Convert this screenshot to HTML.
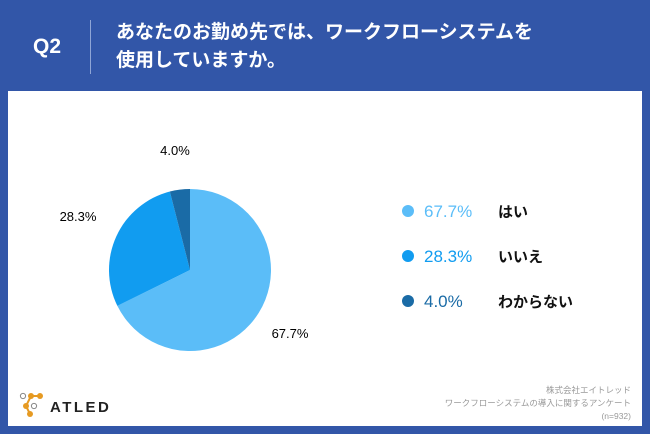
<!DOCTYPE html>
<html><head><meta charset="utf-8"><style>
body{margin:0;width:650px;height:434px;background:#3256a8;font-family:"Liberation Sans","Noto Sans CJK JP",sans-serif;position:relative;overflow:hidden}
.abs{position:absolute}
</style></head><body>
<div class="abs" style="left:33px;top:35px;color:#fff;font-size:21px;font-weight:bold">Q2</div>
<div class="abs" style="left:90px;top:20px;width:1px;height:54px;background:#8fa5d6"></div>
<div class="abs" style="left:116px;top:19px;color:#fff;font-size:19px;font-weight:bold;line-height:28px">あなたのお勤め先では、ワークフローシステムを<br>使用していますか。</div>
<div class="abs" style="left:8px;top:91px;width:634px;height:335px;background:#fff"></div>
<svg class="abs" style="left:0;top:0" width="650" height="434">
<g id="pie"></g>
<text x="175" y="155" font-size="13" text-anchor="middle">4.0%</text>
<text x="78" y="221" font-size="13" text-anchor="middle">28.3%</text>
<text x="290" y="338" font-size="13" text-anchor="middle">67.7%</text>
<g id="legend"></g>
</svg>
<div class="abs" style="left:19px;top:391px;width:30px;height:28px">
<svg width="30" height="28"><g stroke="#e69a22" stroke-width="2" fill="none"><path d="M12 5 L21 5 M12 5 L7 15 L11 23"/></g>
<circle cx="4" cy="5" r="2.6" fill="#fff" stroke="#888"/><circle cx="12" cy="5" r="3" fill="#e69a22"/><circle cx="21" cy="5" r="3" fill="#e69a22"/>
<circle cx="7" cy="15" r="3" fill="#e69a22"/><circle cx="15" cy="15" r="2.6" fill="#fff" stroke="#888"/><circle cx="11" cy="23" r="3" fill="#e69a22"/></svg></div>
<div class="abs" style="left:50px;top:399px;font-size:15px;font-weight:bold;letter-spacing:2.5px;color:#222">ATLED</div>
<div class="abs" style="right:19px;top:384px;text-align:right;font-size:8.5px;line-height:13px;color:#999">株式会社エイトレッド<br>ワークフローシステムの導入に関するアンケート<br>(n=932)</div>
<script>
const categories=["はい","いいえ","わからない"];
const values=[67.7,28.3,4.0];
const colors=["#5bbdf8","#119cf0","#1a6ba6"];
const cx=190,cy=270,r=81;
const pie=document.getElementById('pie');
const total=values.reduce((a,b)=>a+b,0);
let a0=-Math.PI/2;
values.forEach((v,i)=>{
 const a1=a0+v/total*2*Math.PI;
 const large=(a1-a0)>Math.PI?1:0;
 const p=document.createElementNS('http://www.w3.org/2000/svg','path');
 p.setAttribute('d',`M${cx},${cy} L${cx+r*Math.cos(a0)},${cy+r*Math.sin(a0)} A${r},${r} 0 ${large} 1 ${cx+r*Math.cos(a1)},${cy+r*Math.sin(a1)} Z`);
 p.setAttribute('fill',colors[i]);
 
 
 pie.appendChild(p);
 a0=a1;
});
const lg=document.getElementById('legend');
values.forEach((v,i)=>{
 const y=211+i*45;
 const g=document.createElementNS('http://www.w3.org/2000/svg','g');
 
 
 g.innerHTML=`<circle cx="408" cy="${y}" r="6" fill="${colors[i]}"/><text x="424" y="${y+6}" font-size="17" fill="${colors[i]}">${v.toFixed(1)}%</text><text x="498" y="${y+6}" font-size="15" font-weight="bold" fill="#111">${categories[i]}</text>`;
 lg.appendChild(g);
});
</script>
</body></html>
